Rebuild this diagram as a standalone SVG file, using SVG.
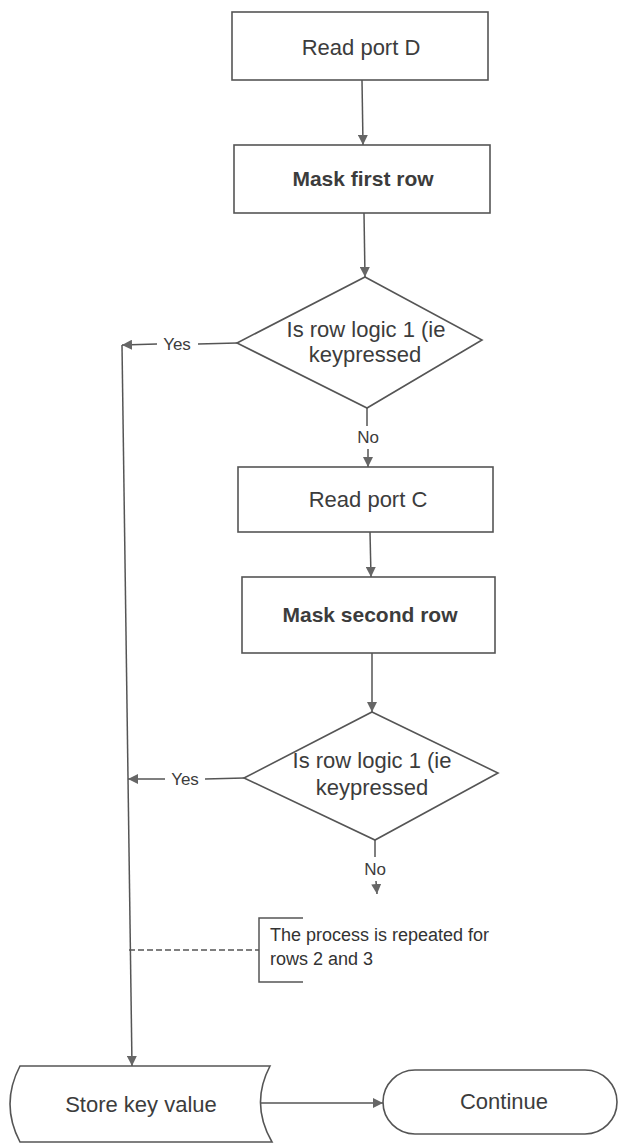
<svg xmlns="http://www.w3.org/2000/svg" width="620" height="1145" viewBox="0 0 620 1145">
  <style>
    .shape { fill: #ffffff; stroke: #555555; stroke-width: 1.6; }
    .line { fill: none; stroke: #555555; stroke-width: 1.5; }
    .dash { fill: none; stroke: #555555; stroke-width: 1.4; stroke-dasharray: 6 3; }
    .t { font-family: "Liberation Sans", Arial, sans-serif; font-size: 22px; fill: #3c3c3c; text-anchor: middle; }
    .b { font-weight: bold; font-size: 21px; }
    .lbl { font-family: "Liberation Sans", Arial, sans-serif; font-size: 17px; fill: #3c3c3c; text-anchor: middle; }
    .note { font-family: "Liberation Sans", Arial, sans-serif; font-size: 18px; fill: #333333; }
  </style>
  <defs>
    <marker id="arrow" markerUnits="userSpaceOnUse" markerWidth="10" markerHeight="10" refX="10" refY="5" orient="auto">
      <path d="M0,0 L10,5 L0,10 z" fill="#666666"/>
    </marker>
  </defs>
  <rect width="620" height="1145" fill="#ffffff"/>

  <!-- connectors -->
  <g id="connectors">
    <line class="line" x1="362" y1="80" x2="363" y2="145" marker-end="url(#arrow)"/>
    <line class="line" x1="364" y1="213" x2="365" y2="277" marker-end="url(#arrow)"/>
    <!-- decision 1: Yes branch -->
    <line class="line" x1="237" y1="343" x2="198" y2="344"/>
    <line class="line" x1="157" y1="344" x2="122" y2="345" marker-end="url(#arrow)"/>
    <!-- decision 1: No branch -->
    <line class="line" x1="367" y1="408" x2="367" y2="426"/>
    <line class="line" x1="368" y1="449" x2="368" y2="467" marker-end="url(#arrow)"/>
    <line class="line" x1="370" y1="532" x2="371" y2="577" marker-end="url(#arrow)"/>
    <line class="line" x1="372" y1="653" x2="372" y2="712" marker-end="url(#arrow)"/>
    <!-- decision 2: Yes branch -->
    <line class="line" x1="244" y1="778" x2="205" y2="779"/>
    <line class="line" x1="165" y1="779" x2="128" y2="779" marker-end="url(#arrow)"/>
    <!-- decision 2: No branch -->
    <line class="line" x1="375" y1="840" x2="375" y2="857"/>
    <line class="line" x1="376" y1="881" x2="377" y2="894" marker-end="url(#arrow)"/>
    <!-- common Yes path down to storage -->
    <line class="line" x1="122" y1="345" x2="132" y2="1066" marker-end="url(#arrow)"/>
    <!-- annotation link -->
    <line class="dash" x1="129" y1="950" x2="259" y2="950"/>
    <!-- storage to terminator -->
    <line class="line" x1="259" y1="1103" x2="383" y2="1103" marker-end="url(#arrow)"/>
  </g>

  <g id="read-port-d">
    <rect class="shape" x="232" y="12" width="256" height="68"/>
    <text class="t" x="361" y="55">Read port D</text>
  </g>

  <g id="mask-first-row">
    <rect class="shape" x="234" y="145" width="256" height="68"/>
    <text class="t b" x="363" y="186">Mask first row</text>
  </g>

  <g id="decision-1">
    <polygon class="shape" points="365,277 482,340 367,408 237,343"/>
    <text class="t" x="366" y="337">Is row logic 1 (ie</text>
    <text class="t" x="365" y="362">keypressed</text>
  </g>

  <g id="labels-1">
    <text class="lbl" x="177" y="350">Yes</text>
    <text class="lbl" x="368" y="443">No</text>
  </g>

  <g id="read-port-c">
    <rect class="shape" x="238" y="467" width="255" height="65"/>
    <text class="t" x="368" y="507">Read port C</text>
  </g>

  <g id="mask-second-row">
    <rect class="shape" x="242" y="577" width="253" height="76"/>
    <text class="t b" x="370" y="622">Mask second row</text>
  </g>

  <g id="decision-2">
    <polygon class="shape" points="372,712 498,773 375,840 244,778"/>
    <text class="t" x="372" y="768">Is row logic 1 (ie</text>
    <text class="t" x="372" y="795">keypressed</text>
  </g>

  <g id="labels-2">
    <text class="lbl" x="185" y="785">Yes</text>
    <text class="lbl" x="375" y="875">No</text>
  </g>

  <g id="repeat-note">
    <path class="line" d="M303,918 H259 V982 H303"/>
    <text class="note" x="270" y="941">The process is repeated for</text>
    <text class="note" x="270" y="965">rows 2 and 3</text>
  </g>

  <g id="store-key-value">
    <path class="shape" d="M20,1066 H270 Q250,1104 272,1142 H20 Q0,1104 20,1066 Z"/>
    <text class="t" x="141" y="1112">Store key value</text>
  </g>

  <g id="continue">
    <rect class="shape" x="383" y="1070" width="234" height="64" rx="32" ry="32"/>
    <text class="t" x="504" y="1109">Continue</text>
  </g>
</svg>
